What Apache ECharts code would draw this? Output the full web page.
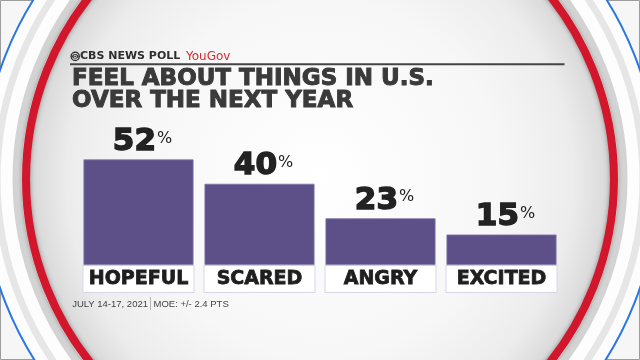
<!DOCTYPE html>
<html>
<head>
<meta charset="utf-8">
<script src="https://cdn.jsdelivr.net/npm/echarts@6/dist/echarts.min.js"></script>
<style>html,body{margin:0;padding:0;background:#f5f5f5}#c{width:640px;height:360px}</style>
</head>
<body>
<div id="c"></div>
<script>
const categories = ['HOPEFUL', 'SCARED', 'ANGRY', 'EXCITED'];
const values = [52, 40, 23, 15];
const brandText = 'CBS NEWS POLL';
const partnerText = 'YouGov';
const titleLines = ['FEEL ABOUT THINGS IN U.S.', 'OVER THE NEXT YEAR'];
const footDate = 'JULY 14-17, 2021';
const footMoe = 'MOE: +/- 2.4 PTS';

const chart = echarts.init(document.getElementById('c'), null, {renderer: 'canvas'});
const CX = 320, CY = 179;
const footFont = '9.5px "Liberation Sans"';
const bg = [
  {type: 'rect', z: -10, shape: {x: 0.5, y: 0.5, width: 639, height: 359}, style: {fill: '#f6f6f6', stroke: '#9c9c9c', lineWidth: 1}},
  {type: 'circle', z: -9, shape: {cx: CX, cy: CY, r: 338}, style: {fill: '#fdfdfd', stroke: '#2b77e2', lineWidth: 2}},
  {type: 'circle', z: -8, shape: {cx: CX, cy: CY, r: 323}, style: {fill: 'none', stroke: '#e6e6e6', lineWidth: 7}},
  {type: 'circle', z: -8, shape: {cx: CX, cy: CY, r: 303}, style: {fill: 'none', stroke: '#d3d3d3', lineWidth: 9}},
  {type: 'circle', z: -7, shape: {cx: CX, cy: CY, r: 294}, style: {
    fill: {type: 'radial', x: 0.5, y: 0.5, r: 0.5, colorStops: [
      {offset: 0, color: '#ffffff'}, {offset: 0.6, color: '#f7f7f7'}, {offset: 0.85, color: '#ececec'}, {offset: 0.95, color: '#dcdcdc'}, {offset: 1, color: '#c9c9c9'}]},
    stroke: '#d2162c', lineWidth: 8, shadowBlur: 4, shadowColor: 'rgba(0,0,0,0.35)'}},
  // CBS eye logo
  {type: 'circle', z: 5, shape: {cx: 75.2, cy: 56.4, r: 4.1}, style: {fill: 'none', stroke: '#333', lineWidth: 1.4}},
  {type: 'polygon', z: 5, shape: {points: [[71.6, 56.4], [73.2, 54.6], [75.2, 54], [77.2, 54.6], [78.8, 56.4], [77.2, 58.2], [75.2, 58.8], [73.2, 58.2]]}, style: {fill: '#333'}},
  {type: 'circle', z: 6, shape: {cx: 75.2, cy: 56.4, r: 1.6}, style: {fill: '#f2f2f2'}},
  {type: 'circle', z: 7, shape: {cx: 75.2, cy: 56.4, r: 0.9}, style: {fill: '#333'}},
  {type: 'text', z: 5, x: 80, y: 56.6, style: {text: brandText, fill: '#2e2e2e', font: 'bold 11px "DejaVu Sans"', textVerticalAlign: 'middle'}},
  {type: 'text', z: 5, x: 186, y: 56.6, style: {text: partnerText, fill: '#e0262e', font: '12px "DejaVu Sans"', textVerticalAlign: 'middle'}},
  {type: 'line', z: 5, shape: {x1: 70, y1: 64.3, x2: 564.5, y2: 64.3}, style: {stroke: '#444', lineWidth: 2}},
  {type: 'text', z: 5, x: 72, y: 79, style: {text: titleLines[0], fill: '#3a3a3a', stroke: '#3a3a3a', lineWidth: 1, font: 'bold 23px "DejaVu Sans"', textVerticalAlign: 'middle'}},
  {type: 'text', z: 5, x: 72, y: 101.5, style: {text: titleLines[1], fill: '#3a3a3a', stroke: '#3a3a3a', lineWidth: 1, font: 'bold 23px "DejaVu Sans"', textVerticalAlign: 'middle'}},
  {type: 'text', z: 5, x: 148, y: 304, style: {text: footDate, fill: '#444', font: footFont, textAlign: 'right', textVerticalAlign: 'middle'}},
  {type: 'line', z: 5, shape: {x1: 150.5, y1: 297, x2: 150.5, y2: 310}, style: {stroke: '#b8b8b8', lineWidth: 1}},
  {type: 'text', z: 5, x: 153.5, y: 304, style: {text: footMoe, fill: '#444', font: footFont, textVerticalAlign: 'middle'}}
];

chart.setOption({
  animation: false,
  graphic: {elements: bg},
  grid: {left: 78, right: 78, top: 62, bottom: 95},
  xAxis: {
    type: 'category', data: categories,
    axisLine: {show: false}, axisTick: {show: false},
    axisLabel: {
      interval: 0, margin: 1, color: '#1e1e1e',
      fontFamily: 'DejaVu Sans', fontWeight: 'bold', fontSize: 19,
      textBorderColor: '#1e1e1e', textBorderWidth: 0.8,
      width: 110, height: 26, lineHeight: 26, align: 'center', verticalAlign: 'top',
      backgroundColor: '#ffffff', borderColor: '#d8d5e8', borderWidth: 1
    }
  },
  yAxis: {type: 'value', min: 0, max: 100, show: false, splitLine: {show: false}},
  series: [{
    type: 'bar', data: values, barWidth: 110, z: 3,
    itemStyle: {color: '#5d5088', borderColor: '#7e74a8', borderWidth: 0.8},
    label: {
      show: true, position: 'top', distance: 2, offset: [4, 0],
      formatter: p => '{n|' + p.value + '}{p|%}',
      rich: {
        n: {fontFamily: 'DejaVu Sans', fontWeight: 'bold', fontSize: 31, lineHeight: 31, color: '#222', textBorderColor: '#222', textBorderWidth: 1.5},
        p: {fontFamily: 'DejaVu Sans', fontSize: 16, lineHeight: 16, color: '#222', verticalAlign: 'top', padding: [4, 0, 0, 1]}
      }
    }
  }]
});
</script>
</body>
</html>
